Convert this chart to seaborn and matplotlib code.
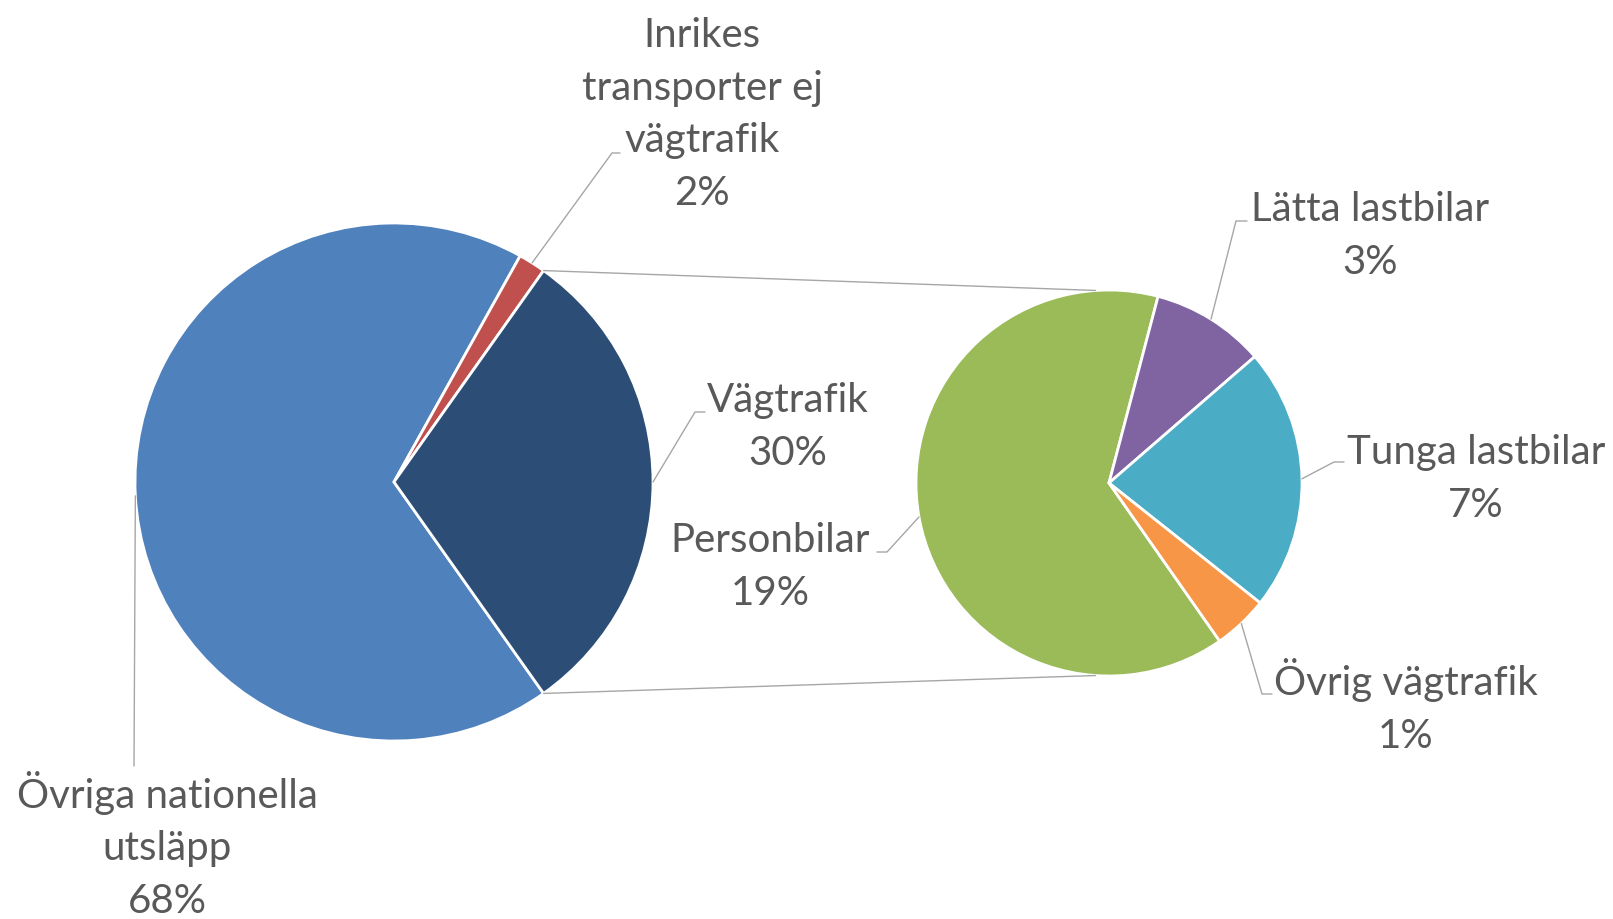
import numpy as np
import matplotlib
matplotlib.use("Agg")
import matplotlib.pyplot as plt
import seaborn as sns

# data
main_labels = ["Övriga nationella\nutsläpp", "Inrikes\ntransporter ej\nvägtrafik", "Vägtrafik"]
main_values = [67.9, 1.7, 30.4]
main_colors = ["#4F81BD", "#C0504D", "#2C4D75"]

sub_labels = ["Personbilar", "Lätta lastbilar", "Tunga lastbilar", "Övrig vägtrafik"]
sub_values = [19.4, 2.9, 6.7, 1.4]
sub_colors = ["#9BBB59", "#8064A2", "#4BACC6", "#F79646"]

sns.set_theme(style="white")
plt.rcParams["font.family"] = ["Lato", "DejaVu Sans"]

W, H = 1613, 919
fig = plt.figure(figsize=(W / 100, H / 100), dpi=100)
ax = fig.add_axes([0, 0, 1, 1])

main_center = (394, H - 482)
main_r = 259
sub_center = (1109, H - 483)
sub_r = 193

total = sum(main_values)
vag_frac = main_values[2] / total
wedges_main, _ = ax.pie(main_values, colors=main_colors, center=main_center, radius=main_r,
                        startangle=-vag_frac * 180, counterclock=False,
                        wedgeprops=dict(edgecolor="white", linewidth=2))
wedges_sub, _ = ax.pie(sub_values, colors=sub_colors, center=sub_center, radius=sub_r,
                       startangle=-55, counterclock=False,
                       wedgeprops=dict(edgecolor="white", linewidth=2))

ax.set_xlim(0, W)
ax.set_ylim(0, H)
ax.set_aspect("equal")
ax.axis("off")

line_col = "#A6A6A6"
text_col = "#595959"

def on_circle(center, r, ang):
    a = np.deg2rad(ang)
    return center[0] + r * np.cos(a), center[1] + r * np.sin(a)

# connector lines between the two pies
vag = wedges_main[2]
for ang_main, ang_sub in [(vag.theta2, 94), (vag.theta1, -94)]:
    x0, y0 = on_circle(main_center, main_r, ang_main)
    x1, y1 = on_circle(sub_center, sub_r, ang_sub)
    ax.plot([x0, x1], [y0, y1], color=line_col, lw=1)

# label layout: (elbow x, elbow y, end x, text x, last baseline y) in pixels from top
main_layout = [(134, 766, 134, 167, 913),
               (612, 153, 620, 702, 205),
               (695, 412, 705, 788, 465)]
sub_layout = [(887, 552, 877, 770, 605),
              (1236, 221, 1247, 1370, 274),
              (1334, 462, 1344, 1476, 517),
              (1262, 694, 1272, 1406, 748)]

def label(wedges, center, r, labels, values, layout):
    for w, lab, v, (ex, ey, endx, tx, ty) in zip(wedges, labels, values, layout):
        mid = (w.theta1 + w.theta2) / 2
        sx, sy = on_circle(center, r, mid)
        ax.plot([sx, ex, endx], [sy, H - ey, H - ey], color=line_col, lw=1)
        pct = f"{round(v / total * 100):.0f}%"
        ax.text(tx, H - ty, f"{lab}\n{pct}", ha="center", va="baseline",
                fontsize=29, color=text_col, linespacing=1.52, multialignment="center")

label(wedges_main, main_center, main_r, main_labels, main_values, main_layout)
label(wedges_sub, sub_center, sub_r, sub_labels, sub_values, sub_layout)

fig.savefig("out.png", dpi=100, facecolor="white")
